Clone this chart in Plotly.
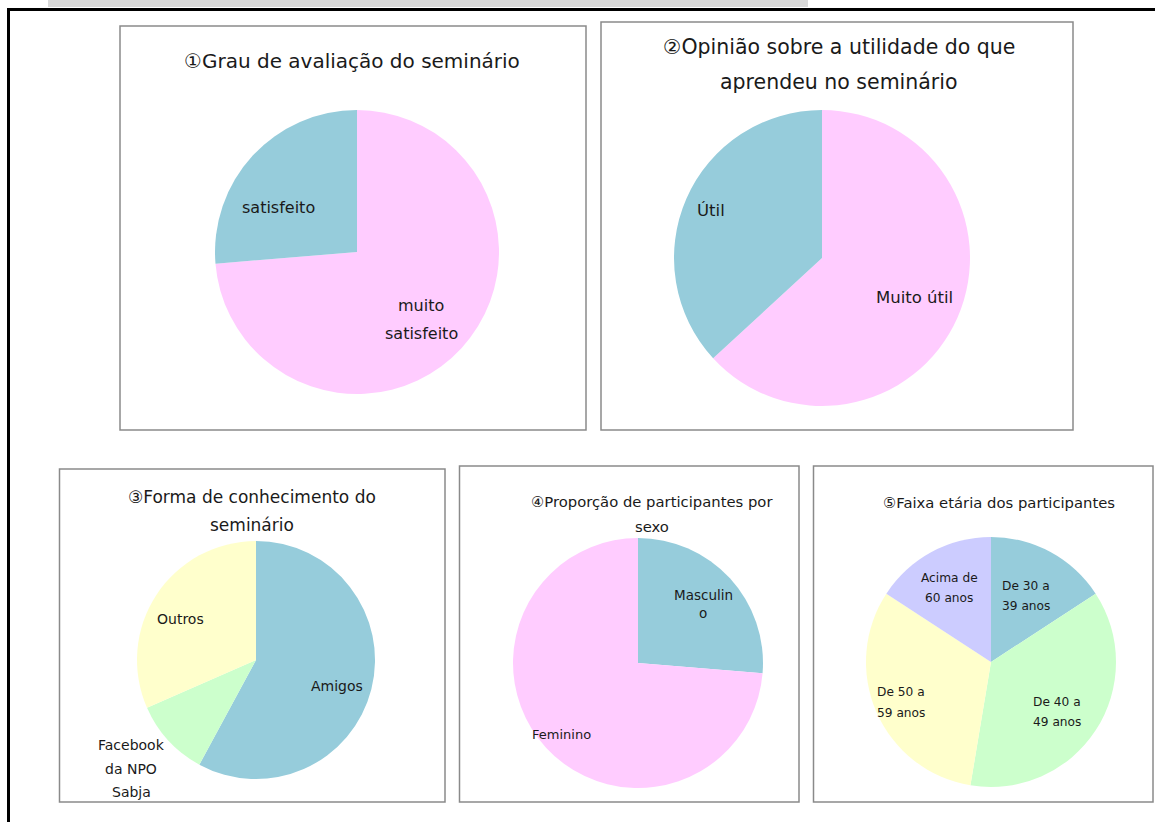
import plotly.graph_objects as go

W, H = 1155, 822

# ---------------- data ----------------
c1_labels = ["muito satisfeito", "satisfeito"]
c1_values = [14, 5]

c2_labels = ["Muito útil", "Útil"]
c2_values = [12, 7]

c3_labels = ["Amigos", "Facebook da NPO Sabja", "Outros"]
c3_values = [11, 2, 6]

c4_labels = ["Masculino", "Feminino"]
c4_values = [5, 14]

c5_labels = ["De 30 a 39 anos", "De 40 a 49 anos", "De 50 a 59 anos", "Acima de 60 anos"]
c5_values = [3, 7, 6, 3]

titles = [
    ["①Grau de avaliação do seminário"],
    ["②Opinião sobre a utilidade do que", "aprendeu no seminário"],
    ["③Forma de conhecimento do", "seminário"],
    ["④Proporção de participantes por", "sexo"],
    ["⑤Faixa etária dos participantes"],
]

BLUE, PINK, YELLOW, GREEN, LAV = "#96CCDB", "#FFCCFF", "#FFFFCC", "#CCFFCC", "#CCCCFF"

FONT = "DejaVu Sans, Noto Sans CJK JP, sans-serif"
TXT = "#1a1a1a"


def px(x):
    return x / W


def py(y):
    return 1 - y / H


def dom(cx, cy, r):
    return dict(x=[px(cx - r), px(cx + r)], y=[py(cy + r), py(cy - r)])


fig = go.Figure()

pies = [
    (c1_labels, c1_values, [PINK, BLUE], (357, 252, 142)),
    (c2_labels, c2_values, [PINK, BLUE], (822, 258, 148)),
    (c3_labels, c3_values, [BLUE, GREEN, YELLOW], (256, 660, 119)),
    (c4_labels, c4_values, [BLUE, PINK], (638, 663, 125)),
    (c5_labels, c5_values, [BLUE, GREEN, YELLOW, LAV], (991, 662, 125)),
]
for labels, values, colors, (cx, cy, r) in pies:
    fig.add_trace(go.Pie(
        labels=labels, values=values, sort=False, direction="clockwise",
        rotation=0, textinfo="none", showlegend=False,
        marker=dict(colors=colors, line=dict(width=0)),
        domain=dom(cx, cy, r),
    ))

shapes = []
# header grey bar
shapes.append(dict(type="rect", xref="paper", yref="paper", x0=px(48), x1=px(808),
                   y0=py(7), y1=py(-2), fillcolor="#D9D9D9", line=dict(width=0)))
# black frame lines
shapes.append(dict(type="line", xref="paper", yref="paper", x0=px(7), x1=px(1160),
                   y0=py(9.5), y1=py(9.5), line=dict(color="black", width=3)))
shapes.append(dict(type="line", xref="paper", yref="paper", x0=px(8.5), x1=px(8.5),
                   y0=py(8), y1=py(830), line=dict(color="black", width=3)))
# chart boxes
boxes = [(120, 26, 586, 430), (601, 22, 1073, 430), (59.5, 469, 445, 802),
         (459.5, 466, 799, 802), (813.5, 466, 1153, 802)]
for x0, y0, x1, y1 in boxes:
    shapes.append(dict(type="rect", xref="paper", yref="paper", x0=px(x0), x1=px(x1),
                       y0=py(y1), y1=py(y0), line=dict(color="#8A8A8A", width=1.5),
                       fillcolor="rgba(0,0,0,0)"))

ann = []


def text(lines, x, y, size, gap=0):
    for i, s in enumerate(lines):
        ann.append(dict(text=s, x=px(x), y=py(y + i * gap), xref="paper", yref="paper",
                        showarrow=False, xanchor="center", yanchor="middle",
                        font=dict(family=FONT, size=size, color=TXT)))


# titles
text(titles[0], 352, 61, 20)
text(titles[1], 839, 47, 20.5, 35)
text(titles[2], 252, 497, 17, 28)
text(titles[3], 652, 501, 14.8, 25)
text(titles[4], 999, 502, 14.8)

# slice labels
text(["satisfeito"], 278, 207, 16)
text(["muito", "satisfeito"], 421, 305, 16, 28)
text(["Útil"], 711, 210, 16.5)
text(["Muito útil"], 914, 297, 16.5)
text(["Outros"], 180, 619, 14)
text(["Amigos"], 337, 686, 14)
text(["Facebook", "da NPO", "Sabja"], 131, 745, 14, 23.5)
text(["Masculin", "o"], 703, 595, 13.5, 18)
text(["Feminino"], 561, 734, 13)
text(["Acima de", "60 anos"], 949, 578, 12.2, 20)
text(["De 30 a", "39 anos"], 1026, 586, 12.2, 20)
text(["De 40 a", "49 anos"], 1057, 702, 12.2, 20)
text(["De 50 a", "59 anos"], 901, 692, 12.2, 21)

fig.update_layout(
    width=W, height=H, margin=dict(l=0, r=0, t=0, b=0),
    paper_bgcolor="white", plot_bgcolor="white",
    shapes=shapes, annotations=ann, showlegend=False,
)

fig.write_html(
    "out.html",
    config={"displayModeBar": False},
    post_script="document.body.style.margin='0';document.body.style.overflow='hidden';",
)
